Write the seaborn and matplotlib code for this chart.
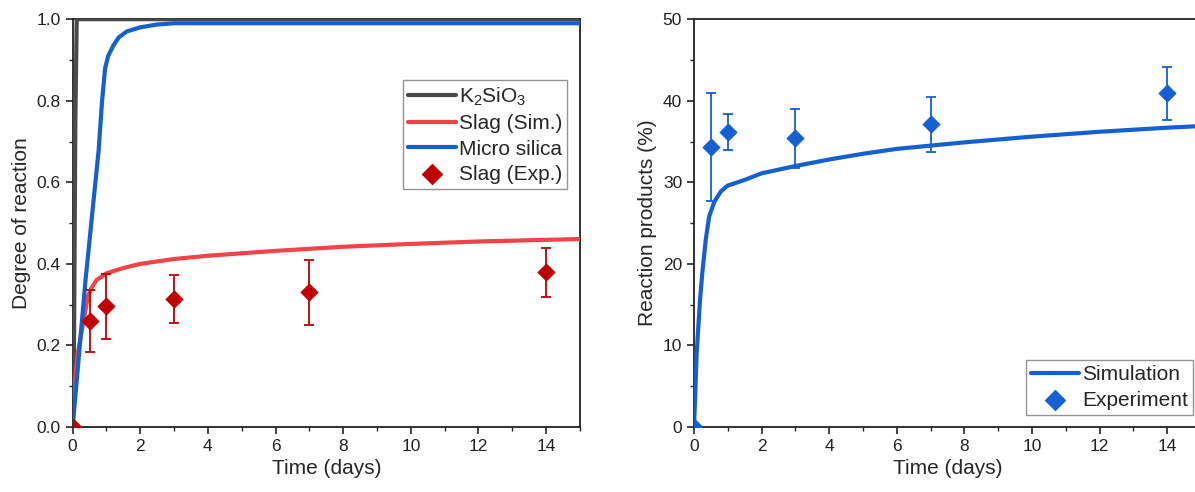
import numpy as np
import pandas as pd
import matplotlib
matplotlib.use("Agg")
import matplotlib.pyplot as plt
import seaborn as sns
from matplotlib.ticker import MultipleLocator

sns.set_theme(style="ticks")
plt.rcParams['font.family'] = ['Liberation Sans', 'DejaVu Sans']
plt.rcParams['mathtext.fontset'] = 'custom'
plt.rcParams['mathtext.rm'] = 'Liberation Sans'

# ---- Left panel data ----
k2_t = [0.0, 0.04, 0.08, 0.12, 15.0]
k2_y = [0.0, 0.2, 0.75, 1.0, 1.0]

ms_t = [0.0, 0.38, 0.77, 0.87, 0.96, 1.05, 1.2, 1.36, 1.6, 2.0, 2.5, 3.0, 4.0, 15.0]
ms_y = [0.0, 0.36, 0.68, 0.80, 0.88, 0.91, 0.935, 0.955, 0.97, 0.98, 0.987, 0.99, 0.99, 0.99]

slag_t = [0.0, 0.05, 0.15, 0.3, 0.45, 0.55, 0.7, 1.0, 1.5, 2.0, 3.0, 4.0, 6.0, 8.0, 10.0, 12.0, 14.0, 15.0]
slag_y = [0.0, 0.1, 0.18, 0.25, 0.32, 0.34, 0.36, 0.377, 0.39, 0.40, 0.412, 0.42, 0.432, 0.442, 0.449, 0.455, 0.459, 0.461]

slag_exp_t = [0.0, 0.5, 1.0, 3.0, 7.0, 14.0]
slag_exp_y = [0.0, 0.26, 0.296, 0.314, 0.33, 0.379]
slag_exp_err = [0.0, 0.076, 0.08, 0.06, 0.08, 0.06]

# ---- Right panel data ----
sim_t = [0.0, 0.03, 0.08, 0.18, 0.25, 0.35, 0.45, 0.6, 0.8, 1.0, 1.5, 2.0, 3.0, 4.0, 5.0, 6.0, 7.0, 8.0, 10.0, 12.0, 14.0, 15.0]
sim_y = [0.0, 3.0, 9.0, 15.6, 19.0, 23.0, 25.8, 27.6, 28.9, 29.6, 30.3, 31.1, 32.0, 32.8, 33.5, 34.1, 34.5, 34.9, 35.6, 36.2, 36.7, 36.9]

exp_t = [0.0, 0.5, 1.0, 3.0, 7.0, 14.0]
exp_y = [0.0, 34.3, 36.2, 35.4, 37.1, 40.9]
exp_err = [0.0, 6.6, 2.2, 3.6, 3.4, 3.2]

red_line = "#f04448"
red_dark = "#c00000"
blue = "#1560d0"
grey = "#4a4a4a"

fig = plt.figure(figsize=(11.95, 4.92), dpi=100)
ax1 = fig.add_axes([0.0608, 0.132, 0.4245, 0.829])
ax2 = fig.add_axes([0.5807, 0.132, 0.4243, 0.829])

# Left
sns.lineplot(x=k2_t, y=k2_y, ax=ax1, color=grey, lw=3, label=r"K$_2$SiO$_3$", zorder=3, sort=False)
sns.lineplot(x=slag_t, y=slag_y, ax=ax1, color=red_line, lw=3, label="Slag (Sim.)", zorder=3)
sns.lineplot(x=ms_t, y=ms_y, ax=ax1, color=blue, lw=3, label="Micro silica", zorder=4)
ax1.errorbar(slag_exp_t, slag_exp_y, yerr=slag_exp_err, fmt="none", ecolor=red_dark,
             elinewidth=1.3, capsize=3.5, capthick=1.3, zorder=5)
sns.scatterplot(x=slag_exp_t, y=slag_exp_y, ax=ax1, marker="D", s=75, color=red_dark,
                edgecolor=red_dark, label="Slag (Exp.)", zorder=6)

ax1.set_xlim(0, 15)
ax1.set_ylim(0, 1.0)
ax1.xaxis.set_major_locator(MultipleLocator(2))
ax1.xaxis.set_minor_locator(MultipleLocator(1))
ax1.yaxis.set_major_locator(MultipleLocator(0.2))
ax1.yaxis.set_minor_locator(MultipleLocator(0.1))
ax1.set_xlabel("Time (days)", fontsize=15)
ax1.set_ylabel("Degree of reaction", fontsize=15)
leg1 = ax1.legend(loc="upper right", bbox_to_anchor=(0.975, 0.85), fontsize=15, frameon=True,
                  fancybox=False, edgecolor="#7a7a7a", handlelength=2.3, handletextpad=0.12,
                  labelspacing=0.3, borderpad=0.25, borderaxespad=0, markerscale=1.2)
leg1.get_frame().set_linewidth(1.0)

# Right
sns.lineplot(x=sim_t, y=sim_y, ax=ax2, color=blue, lw=3, label="Simulation", zorder=3)
ax2.errorbar(exp_t, exp_y, yerr=exp_err, fmt="none", ecolor=blue,
             elinewidth=1.3, capsize=3.5, capthick=1.3, zorder=5)
sns.scatterplot(x=exp_t, y=exp_y, ax=ax2, marker="D", s=75, color=blue,
                edgecolor=blue, label="Experiment", zorder=6)

ax2.set_xlim(0, 15)
ax2.set_ylim(0, 50)
ax2.xaxis.set_major_locator(MultipleLocator(2))
ax2.xaxis.set_minor_locator(MultipleLocator(1))
ax2.yaxis.set_major_locator(MultipleLocator(10))
ax2.yaxis.set_minor_locator(MultipleLocator(5))
ax2.set_xlabel("Time (days)", fontsize=15)
ax2.set_ylabel("Reaction products (%)", fontsize=15)
leg2 = ax2.legend(loc="lower right", bbox_to_anchor=(0.984, 0.03), fontsize=15, frameon=True,
                  fancybox=False, edgecolor="#7a7a7a", handlelength=2.3, handletextpad=0.12,
                  labelspacing=0.3, borderpad=0.25, borderaxespad=0, markerscale=1.2)
leg2.get_frame().set_linewidth(1.0)

for ax in (ax1, ax2):
    for s in ax.spines.values():
        s.set_linewidth(1.3)
        s.set_color("#222222")
    ax.tick_params(which="major", direction="out", length=5, width=1.2, labelsize=12.5, colors="#222222")
    ax.tick_params(which="minor", direction="out", length=3, width=1.0)
    ax.tick_params(top=False, right=False, which="both")

fig.savefig("out.png", dpi=100)
